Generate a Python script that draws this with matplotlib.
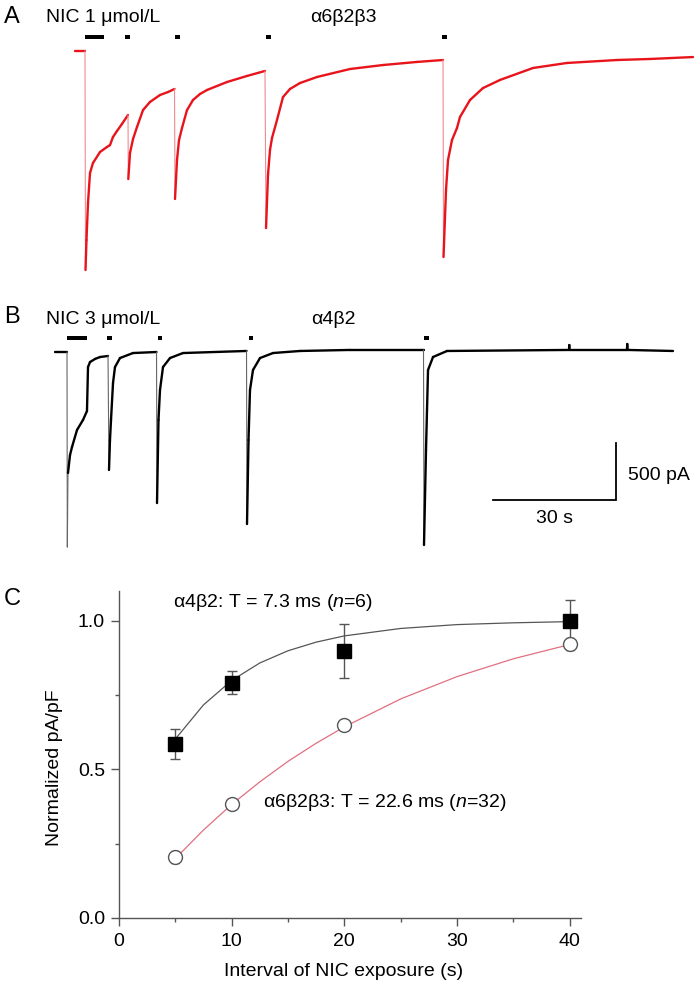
import numpy as np
import matplotlib
matplotlib.use('Agg')
import matplotlib.pyplot as plt
from matplotlib.collections import LineCollection

plt.rcParams['font.family'] = ['Liberation Sans', 'DejaVu Sans']
plt.rcParams['mathtext.fontset'] = 'custom'
plt.rcParams['mathtext.rm'] = 'Liberation Sans'
plt.rcParams['mathtext.it'] = 'Liberation Sans:italic'

# ---------------- Panel A: alpha6beta2beta3 trace (s, pA) ----------------
a_time = [0, 2.44, 2.56, 2.80, 3.17, 3.66, 4.39, 6.10, 7.80, 8.54, 9.27, 10.24, 11.46, 12.93,
          13.0, 13.41, 14.15, 15.12, 16.59, 18.29, 20.73, 22.68, 24.27,
          24.39, 24.88, 25.37, 26.10, 27.32, 28.78, 30.49, 32.2, 37.07, 41.95, 46.34,
          46.59, 47.07, 47.56, 48.05, 49.27, 50.73, 52.44, 54.88, 59.02, 67.07, 75.12, 83.41, 89.76,
          89.88, 90.49, 90.98, 91.95, 93.17, 93.9, 96.34, 99.51, 103.66, 111.71, 120.0, 132.2, 140.24, 150.73]
a_current = [0, 0, -1921, -1658, -1333, -1070, -982, -886, -842, -825, -754, -702, -640, -561,
             -1123, -895, -772, -667, -518, -447, -386, -360, -333,
             -1298, -956, -781, -675, -518, -430, -377, -342, -272, -219, -175,
             -1553, -1088, -868, -763, -605, -404, -333, -281, -228, -158, -123, -96, -79,
             -1807, -1219, -956, -781, -675, -579, -430, -325, -254, -149, -105, -79, -70, -53]
a_pulse_start = [2.44, 12.2, 24.3, 46.5, 89.6]
a_pulse_dur = [4.6, 1.2, 1.2, 1.2, 1.2]

# ---------------- Panel B: alpha4beta2 trace (s, pA) ----------------
b_time = [0, 2.93, 3.0, 3.17, 3.66, 4.15, 5.37, 6.83, 7.8, 8.05, 8.54, 9.76, 10.98, 12.93,
          13.17, 13.41, 13.66, 14.15, 14.63, 15.85, 19.02, 24.76,
          24.88, 25.24, 25.61, 26.34, 28.05, 31.22, 46.71,
          46.83, 47.2, 47.56, 48.29, 50.0, 53.17, 59.76, 71.95, 89.88,
          90.0, 90.49, 90.98, 92.2, 95.61, 125.37, 125.44, 125.5, 139.5, 139.58, 139.66, 150.73]
b_current = [0, 0, -1711, -1061, -904, -833, -684, -596, -518, -132, -88, -61, -44, -35,
             -1035, -772, -596, -272, -132, -53, -9, 0,
             -1325, -596, -333, -132, -53, -9, 9,
             -1509, -772, -333, -158, -53, -9, 9, 18, 18,
             -1693, -860, -158, -44, 9, 18, 61, 18, 18, 70, 18, 9]
b_pulse_start = [2.93, 12.8, 25.0, 47.2, 90.1]
b_pulse_dur = [4.9, 1.2, 1.2, 1.2, 1.2]

scale_time = 30    # s
scale_current = 500  # pA

# ---------------- Panel C: recovery ----------------
interval = [5, 10, 20, 40]
a4b2_mean = [0.585, 0.792, 0.899, 1.0]
a4b2_err = [0.05, 0.04, 0.09, 0.07]
a6_mean = [0.206, 0.384, 0.650, 0.922]
a6_err = [0.02, 0.01, 0.01, 0.02]

fit_x = [5, 7.5, 10, 12.5, 15, 17.5, 20, 25, 30, 35, 40]
a4b2_fit = [0.602, 0.717, 0.799, 0.858, 0.899, 0.928, 0.949, 0.974, 0.987, 0.993, 0.997]
a6_fit = [0.200, 0.296, 0.382, 0.458, 0.527, 0.588, 0.643, 0.737, 0.812, 0.872, 0.920]

W, H = 700, 985
fig = plt.figure(figsize=(W / 100, H / 100), dpi=100)

def px_rect(x0, y0, x1, y1):
    return [x0 / W, 1 - y1 / H, (x1 - x0) / W, (y1 - y0) / H]

def ftext(x, y, s, **kw):
    fig.text(x / W, 1 - y / H, s, va='baseline', ha=kw.pop('ha', 'left'), **kw)

PX_S = 123 / 30.0
PX_PA = 57 / 500.0

def draw_trace(ax, t, i, color, thin_color):
    t = np.asarray(t, float); i = np.asarray(i, float)
    pts = np.column_stack([t, i])
    segs = np.stack([pts[:-1], pts[1:]], axis=1)
    slope = np.abs(np.diff(i)) / np.maximum(np.diff(t), 1e-6)
    steep = slope > 2500
    lws = np.where(steep, 0.8, 1.7)
    cols = [thin_color if s else color for s in steep]
    lc = LineCollection(segs, linewidths=lws, colors=cols, capstyle='round', joinstyle='round')
    ax.add_collection(lc)

# Panel A axes
axA = fig.add_axes(px_rect(0, 0, 700, 290))
axA.set_xlim((0 - 75) / PX_S, (700 - 75) / PX_S)
axA.set_ylim(-(290 - 51) / PX_PA, 51 / PX_PA)
axA.axis('off')
draw_trace(axA, a_time, a_current, '#e8141c', '#f08a90')
axA.bar(a_pulse_start, 40, width=a_pulse_dur, bottom=103, align='edge', color='black')

# Panel B axes
axB = fig.add_axes(px_rect(0, 290, 700, 560))
axB.set_xlim((0 - 55) / PX_S, (700 - 55) / PX_S)
axB.set_ylim(-(560 - 352) / PX_PA, (352 - 290) / PX_PA)
axB.axis('off')
draw_trace(axB, b_time, b_current, 'black', '#666666')
axB.bar(b_pulse_start, 40, width=b_pulse_dur, bottom=103, align='edge', color='black')
sb_t1 = (616 - 55) / PX_S
sb_i0 = -(500 - 352) / PX_PA
axB.plot([sb_t1 - scale_time, sb_t1, sb_t1], [sb_i0, sb_i0, sb_i0 + scale_current],
         color='black', lw=1.3, solid_joinstyle='miter')

# Panel labels and texts
ftext(4, 23, 'A', fontsize=17)
ftext(46, 22, 'NIC 1 μmol/L', fontsize=14)
ftext(310, 22, 'α6β2β3', fontsize=14)
ftext(4, 323, 'B', fontsize=17)
ftext(46, 324, 'NIC 3 μmol/L', fontsize=14)
ftext(311, 324, 'α4β2', fontsize=14)
ftext(628, 480, '500 pA', fontsize=14)
ftext(536, 523, '30 s', fontsize=14)
ftext(4, 605, 'C', fontsize=17)

# Panel C axes
axC = fig.add_axes(px_rect(119, 591, 581, 918))
axC.set_xlim(0, 41)
axC.set_ylim(0, 1.1)
for s in ['top', 'right']:
    axC.spines[s].set_visible(False)
for s in ['left', 'bottom']:
    axC.spines[s].set_color('#555555')
    axC.spines[s].set_linewidth(1.0)
axC.set_xticks([0, 10, 20, 30, 40])
axC.set_xticks([5, 15, 25, 35], minor=True)
axC.set_yticks([0.0, 0.5, 1.0])
axC.set_yticks([0.25, 0.75], minor=True)
axC.set_yticklabels(['0.0', '0.5', '1.0'])
axC.tick_params(which='major', direction='out', length=6, width=1.0, color='#555555',
                labelsize=14, pad=4)
axC.tick_params(which='minor', direction='out', length=3, width=1.0, color='#555555')
axC.tick_params(axis='x', which='major', pad=5)

axC.plot(fit_x, a4b2_fit, color='#555555', lw=0.9, zorder=2)
axC.plot(fit_x, a6_fit, color='#e07080', lw=0.9, zorder=2)
axC.errorbar(interval, a4b2_mean, yerr=a4b2_err, fmt='s', color='black', ms=9.5,
             ecolor='#555555', elinewidth=1.0, capsize=3.5, capthick=1.0, zorder=3)
axC.errorbar(interval, a6_mean, yerr=a6_err, fmt='o', mfc='white', mec='#555555', ms=10,
             mew=1.0, ecolor='#555555', elinewidth=1.0, capsize=3, capthick=1.0, zorder=4)

axC.text(4.8, 1.045, 'α4β2: T = 7.3 ms ($n$=6)', fontsize=14)
axC.text(12.8, 0.375, 'α6β2β3: T = 22.6 ms ($n$=32)', fontsize=14)
axC.set_ylabel('Normalized pA/pF', fontsize=14)
axC.set_xlabel('Interval of NIC exposure (s)', fontsize=14)
axC.yaxis.set_label_coords(-0.122, 0.46)
axC.xaxis.set_label_coords(0.487, -0.138)

fig.savefig('out.png', dpi=100)
